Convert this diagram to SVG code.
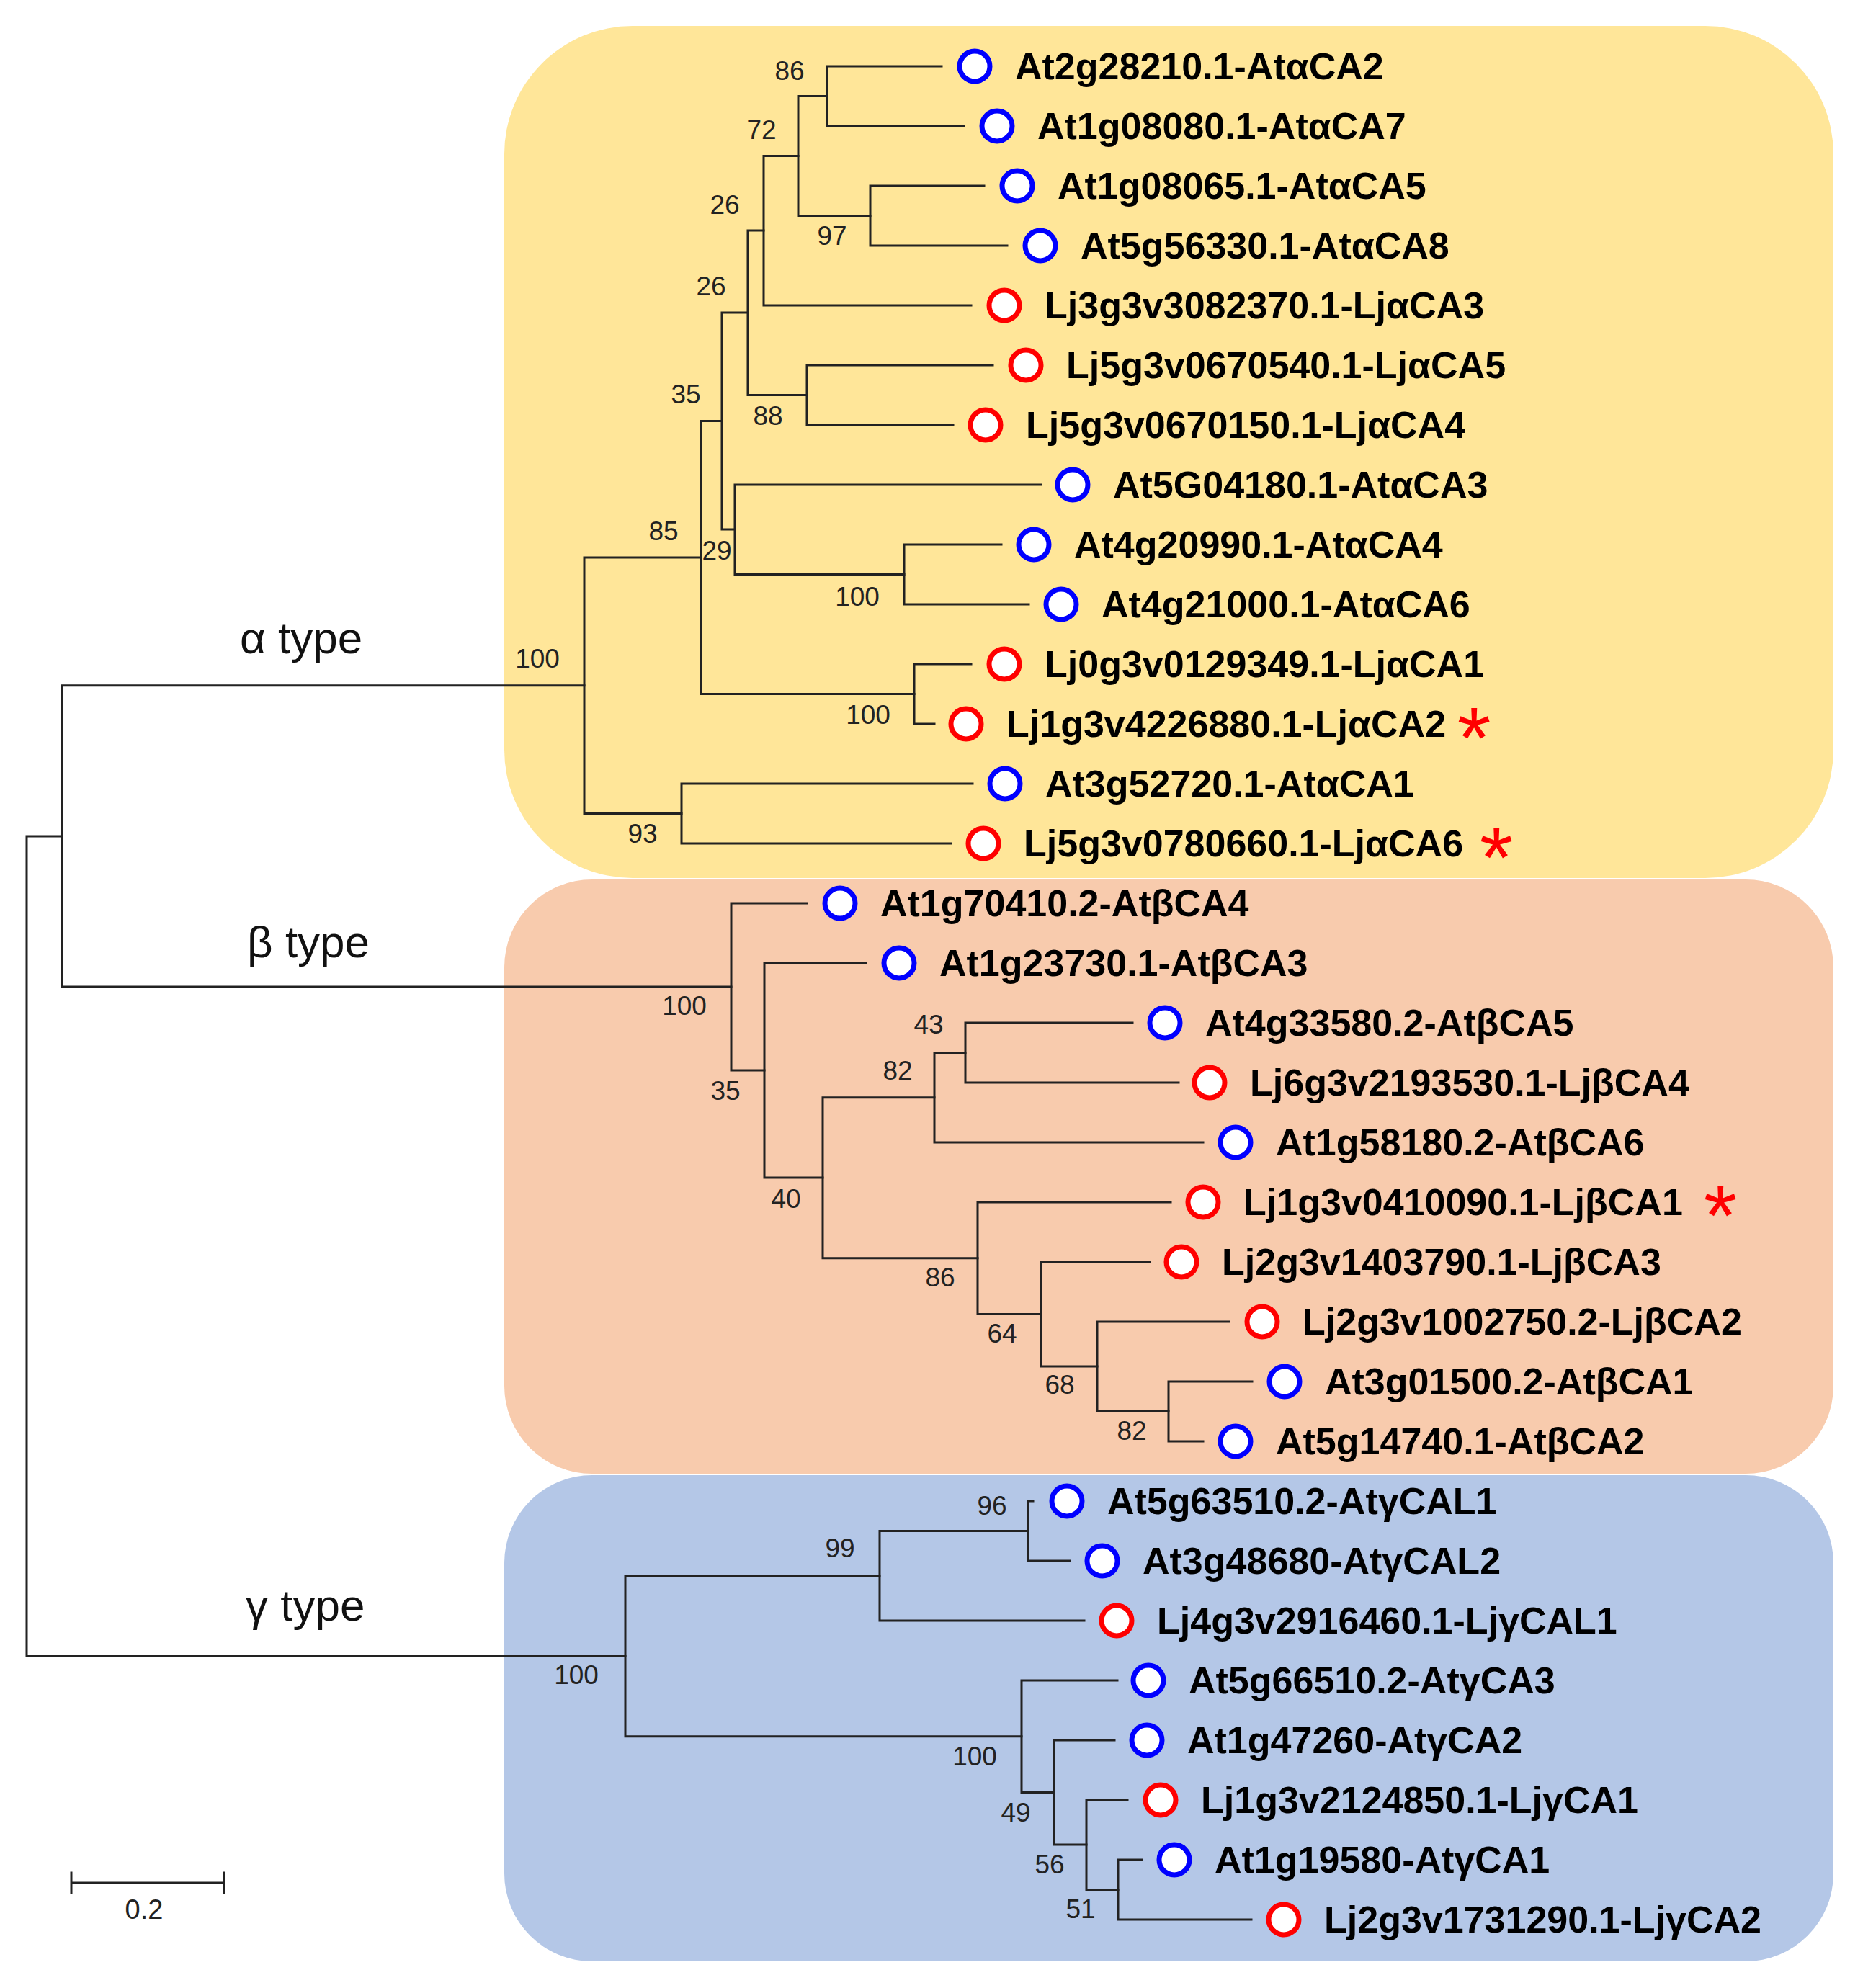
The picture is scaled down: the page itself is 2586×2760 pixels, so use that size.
<svg xmlns="http://www.w3.org/2000/svg" width="2586" height="2760" viewBox="0 0 2586 2760">
<style>
.br{fill:none;stroke:#222;stroke-width:3;stroke-linecap:square}
.lf{font-family:"Liberation Sans",Arial,sans-serif;font-weight:bold;font-size:52px;fill:#000}
.bs{font-family:"Liberation Sans",Arial,sans-serif;font-size:37px;fill:#222;text-anchor:middle}
.ty{font-family:"Liberation Sans",Arial,sans-serif;font-size:62px;fill:#111}
.at{fill:#fff;stroke:#0000ff;stroke-width:7}
.lj{fill:#fff;stroke:#ff0000;stroke-width:7}
.ast{font-family:"Liberation Sans",Arial,sans-serif;font-size:120px;fill:#ff0000;text-anchor:middle}
</style>
<rect width="2586" height="2760" fill="#fff"/>
<g id="backgrounds">
<rect id="alpha-box" x="700" y="36" width="1845" height="1183" rx="178" ry="178" fill="#FFE699"/>
<rect id="beta-box" x="700" y="1221" width="1845" height="825" rx="122" ry="122" fill="#F8CBAD"/>
<rect id="gamma-box" x="700" y="2048" width="1845" height="675" rx="122" ry="122" fill="#B4C7E7"/>
</g>
<g id="connectors">
<path class="br" d="M86,1161 H37 V2299 H868"/>
<path class="br" d="M811,951.75 H86 V1370 H1015"/>
<path class="br" d="M1307,92 H1148 V175 H1338"/>
<path class="br" d="M1366,258 H1208 V341 H1398"/>
<path class="br" d="M1148,133.5 H1108 V299.5 H1208"/>
<path class="br" d="M1108,216.5 H1060 V424 H1348"/>
<path class="br" d="M1378,507 H1120 V590 H1323"/>
<path class="br" d="M1060,320 H1038 V548.5 H1120"/>
<path class="br" d="M1390,756 H1255 V839 H1428"/>
<path class="br" d="M1445,673 H1020 V797.5 H1255"/>
<path class="br" d="M1038,434 H1002 V735 H1020"/>
<path class="br" d="M1348,922 H1269 V1005 H1297"/>
<path class="br" d="M1002,584.5 H973 V963.5 H1269"/>
<path class="br" d="M1350,1088 H946 V1171 H1320"/>
<path class="br" d="M973,774 H811 V1129.5 H946"/>
<path class="br" d="M1572,1420 H1340 V1503 H1636"/>
<path class="br" d="M1340,1461.5 H1297 V1586 H1670"/>
<path class="br" d="M1738,1918 H1622 V2001 H1670"/>
<path class="br" d="M1706,1835 H1523 V1959.5 H1622"/>
<path class="br" d="M1596,1752 H1445 V1897 H1523"/>
<path class="br" d="M1625,1669 H1357 V1824.5 H1445"/>
<path class="br" d="M1297,1523.75 H1142 V1746.75 H1357"/>
<path class="br" d="M1202,1337 H1061 V1635 H1142"/>
<path class="br" d="M1120,1254 H1015 V1486 H1061"/>
<path class="br" d="M1434,2084 H1427 V2167 H1485"/>
<path class="br" d="M1427,2125.5 H1221 V2250 H1505"/>
<path class="br" d="M1585,2582 H1552 V2665 H1737"/>
<path class="br" d="M1565,2499 H1508 V2623.5 H1552"/>
<path class="br" d="M1547,2416 H1463 V2561 H1508"/>
<path class="br" d="M1551,2333 H1418 V2488.5 H1463"/>
<path class="br" d="M1221,2187.75 H868 V2410.75 H1418"/>
</g>
<g id="bootstrap">
<text class="bs" x="1096" y="111">86</text>
<text class="bs" x="1057" y="193">72</text>
<text class="bs" x="1155" y="340">97</text>
<text class="bs" x="1006" y="297">26</text>
<text class="bs" x="987" y="410">26</text>
<text class="bs" x="952" y="560">35</text>
<text class="bs" x="1066" y="590">88</text>
<text class="bs" x="921" y="750">85</text>
<text class="bs" x="995" y="777">29</text>
<text class="bs" x="1190" y="841">100</text>
<text class="bs" x="746" y="927">100</text>
<text class="bs" x="1205" y="1005">100</text>
<text class="bs" x="892" y="1170">93</text>
<text class="bs" x="950" y="1409">100</text>
<text class="bs" x="1007" y="1527">35</text>
<text class="bs" x="1289" y="1435">43</text>
<text class="bs" x="1246" y="1499">82</text>
<text class="bs" x="1091" y="1677">40</text>
<text class="bs" x="1305" y="1786">86</text>
<text class="bs" x="1391" y="1864">64</text>
<text class="bs" x="1471" y="1935">68</text>
<text class="bs" x="1571" y="1999">82</text>
<text class="bs" x="1377" y="2103">96</text>
<text class="bs" x="1166" y="2162">99</text>
<text class="bs" x="800" y="2338">100</text>
<text class="bs" x="1353" y="2451">100</text>
<text class="bs" x="1410" y="2529">49</text>
<text class="bs" x="1457" y="2601">56</text>
<text class="bs" x="1500" y="2663">51</text>
</g>
<g id="group-labels">
<text id="alpha-label" class="ty" x="333" y="907">α type</text>
<text id="beta-label" class="ty" x="343" y="1329">β type</text>
<text id="gamma-label" class="ty" x="341" y="2250">γ type</text>
</g>
<g id="leaves">
<g id="L0"><circle class="at" cx="1353" cy="92" r="21"/><text class="lf" x="1409" y="110">At2g28210.1-AtαCA2</text></g>
<g id="L1"><circle class="at" cx="1384" cy="175" r="21"/><text class="lf" x="1440" y="193">At1g08080.1-AtαCA7</text></g>
<g id="L2"><circle class="at" cx="1412" cy="258" r="21"/><text class="lf" x="1468" y="276">At1g08065.1-AtαCA5</text></g>
<g id="L3"><circle class="at" cx="1444" cy="341" r="21"/><text class="lf" x="1500" y="359">At5g56330.1-AtαCA8</text></g>
<g id="L4"><circle class="lj" cx="1394" cy="424" r="21"/><text class="lf" x="1450" y="442">Lj3g3v3082370.1-LjαCA3</text></g>
<g id="L5"><circle class="lj" cx="1424" cy="507" r="21"/><text class="lf" x="1480" y="525">Lj5g3v0670540.1-LjαCA5</text></g>
<g id="L6"><circle class="lj" cx="1368" cy="590" r="21"/><text class="lf" x="1424" y="608">Lj5g3v0670150.1-LjαCA4</text></g>
<g id="L7"><circle class="at" cx="1489" cy="673" r="21"/><text class="lf" x="1545" y="691">At5G04180.1-AtαCA3</text></g>
<g id="L8"><circle class="at" cx="1435" cy="756" r="21"/><text class="lf" x="1491" y="774">At4g20990.1-AtαCA4</text></g>
<g id="L9"><circle class="at" cx="1473" cy="839" r="21"/><text class="lf" x="1529" y="857">At4g21000.1-AtαCA6</text></g>
<g id="L10"><circle class="lj" cx="1394" cy="922" r="21"/><text class="lf" x="1450" y="940">Lj0g3v0129349.1-LjαCA1</text></g>
<g id="L11"><circle class="lj" cx="1341" cy="1005" r="21"/><text class="lf" x="1397" y="1023">Lj1g3v4226880.1-LjαCA2</text><text class="ast" x="2046" y="1066">*</text></g>
<g id="L12"><circle class="at" cx="1395" cy="1088" r="21"/><text class="lf" x="1451" y="1106">At3g52720.1-AtαCA1</text></g>
<g id="L13"><circle class="lj" cx="1365" cy="1171" r="21"/><text class="lf" x="1421" y="1189">Lj5g3v0780660.1-LjαCA6</text><text class="ast" x="2077" y="1232">*</text></g>
<g id="L14"><circle class="at" cx="1166" cy="1254" r="21"/><text class="lf" x="1222" y="1272">At1g70410.2-AtβCA4</text></g>
<g id="L15"><circle class="at" cx="1248" cy="1337" r="21"/><text class="lf" x="1304" y="1355">At1g23730.1-AtβCA3</text></g>
<g id="L16"><circle class="at" cx="1617" cy="1420" r="21"/><text class="lf" x="1673" y="1438">At4g33580.2-AtβCA5</text></g>
<g id="L17"><circle class="lj" cx="1679" cy="1503" r="21"/><text class="lf" x="1735" y="1521">Lj6g3v2193530.1-LjβCA4</text></g>
<g id="L18"><circle class="at" cx="1715" cy="1586" r="21"/><text class="lf" x="1771" y="1604">At1g58180.2-AtβCA6</text></g>
<g id="L19"><circle class="lj" cx="1670" cy="1669" r="21"/><text class="lf" x="1726" y="1687">Lj1g3v0410090.1-LjβCA1</text><text class="ast" x="2388" y="1729">*</text></g>
<g id="L20"><circle class="lj" cx="1640" cy="1752" r="21"/><text class="lf" x="1696" y="1770">Lj2g3v1403790.1-LjβCA3</text></g>
<g id="L21"><circle class="lj" cx="1752" cy="1835" r="21"/><text class="lf" x="1808" y="1853">Lj2g3v1002750.2-LjβCA2</text></g>
<g id="L22"><circle class="at" cx="1783" cy="1918" r="21"/><text class="lf" x="1839" y="1936">At3g01500.2-AtβCA1</text></g>
<g id="L23"><circle class="at" cx="1715" cy="2001" r="21"/><text class="lf" x="1771" y="2019">At5g14740.1-AtβCA2</text></g>
<g id="L24"><circle class="at" cx="1481" cy="2084" r="21"/><text class="lf" x="1537" y="2102">At5g63510.2-AtγCAL1</text></g>
<g id="L25"><circle class="at" cx="1530" cy="2167" r="21"/><text class="lf" x="1586" y="2185">At3g48680-AtγCAL2</text></g>
<g id="L26"><circle class="lj" cx="1550" cy="2250" r="21"/><text class="lf" x="1606" y="2268">Lj4g3v2916460.1-LjγCAL1</text></g>
<g id="L27"><circle class="at" cx="1594" cy="2333" r="21"/><text class="lf" x="1650" y="2351">At5g66510.2-AtγCA3</text></g>
<g id="L28"><circle class="at" cx="1592" cy="2416" r="21"/><text class="lf" x="1648" y="2434">At1g47260-AtγCA2</text></g>
<g id="L29"><circle class="lj" cx="1611" cy="2499" r="21"/><text class="lf" x="1667" y="2517">Lj1g3v2124850.1-LjγCA1</text></g>
<g id="L30"><circle class="at" cx="1630" cy="2582" r="21"/><text class="lf" x="1686" y="2600">At1g19580-AtγCA1</text></g>
<g id="L31"><circle class="lj" cx="1782" cy="2665" r="21"/><text class="lf" x="1838" y="2683">Lj2g3v1731290.1-LjγCA2</text></g>
</g>
<g id="scale-bar">
<path class="br" d="M99,2614 H311 M99,2600 V2628 M311,2600 V2628"/>
<text class="bs" x="200" y="2664" style="font-size:38px">0.2</text>
</g>
</svg>
